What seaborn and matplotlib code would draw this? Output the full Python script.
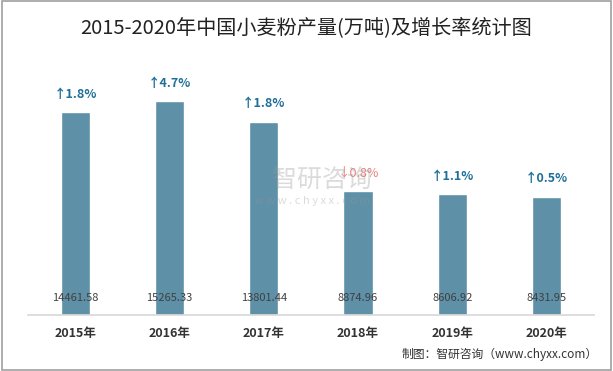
import pandas as pd
import numpy as np
import matplotlib.pyplot as plt
import seaborn as sns

years = ["2015年", "2016年", "2017年", "2018年", "2019年", "2020年"]
output = [14461.58, 15265.33, 13801.44, 8874.96, 8606.92, 8431.95]
growth = [1.8, 4.7, 1.8, -0.8, 1.1, 0.5]

df = pd.DataFrame({"year": years, "output": output})

sns.set_theme(style="white")
plt.rcParams['font.family'] = ['Noto Sans CJK SC', 'DejaVu Sans']

fig = plt.figure(figsize=(6.13, 3.71), dpi=100)
ax = fig.add_axes([0.0457, 0.151, 0.923, 0.668])

sns.barplot(data=df, x="year", y="output", color="#5e90a7", width=0.31,
            saturation=1, ax=ax)
ax.set_ylim(0, 17700)
ax.set_xlim(-0.5, 5.5)

for i, (v, g) in enumerate(zip(output, growth)):
    ax.annotate(f"{v:.2f}", (i, 0), xytext=(0, 12), textcoords="offset points",
                ha="center", va="center", fontsize=8, color="#404040")
    if g >= 0:
        txt, col = f"↑{g}%", "#1f6f99"
        w = "bold"
    else:
        txt, col = f"↓{abs(g)}%", "#e8807a"
        w = "normal"
    ax.annotate(txt, (i, v), xytext=(0, 13), textcoords="offset points",
                ha="center", va="center", fontsize=9, color=col, fontweight=w)

ax.set_xlabel("")
ax.set_ylabel("")
ax.set_yticks([])
ax.tick_params(axis="x", length=0, pad=9, labelsize=9)
for lbl in ax.get_xticklabels():
    lbl.set_fontweight("bold")
    lbl.set_color("#333333")
for s in ["top", "right", "left"]:
    ax.spines[s].set_visible(False)
ax.spines["bottom"].set_color("#d9d9d9")

fig.text(0.5, 0.925, "2015-2020年中国小麦粉产量(万吨)及增长率统计图",
         ha="center", va="center", fontsize=14.5, color="#222222")
fig.text(0.975, 0.045, "制图：智研咨询（www.chyxx.com）",
         ha="right", va="center", fontsize=8.5, color="#333333")

# watermark
fig.text(0.525, 0.515, "智研咨询", ha="center", va="center", fontsize=18,
         color="#999999", alpha=0.35)
fig.text(0.51, 0.458, "w w w . c h y x x . c o m", ha="center", va="center",
         fontsize=8, color="#999999", alpha=0.35)

fig.patches.append(plt.Rectangle((0.003, 0.004), 0.994, 0.992, transform=fig.transFigure,
                                 fill=False, edgecolor="#a0a0a0", linewidth=1.2))

fig.savefig("out.png", dpi=100)
